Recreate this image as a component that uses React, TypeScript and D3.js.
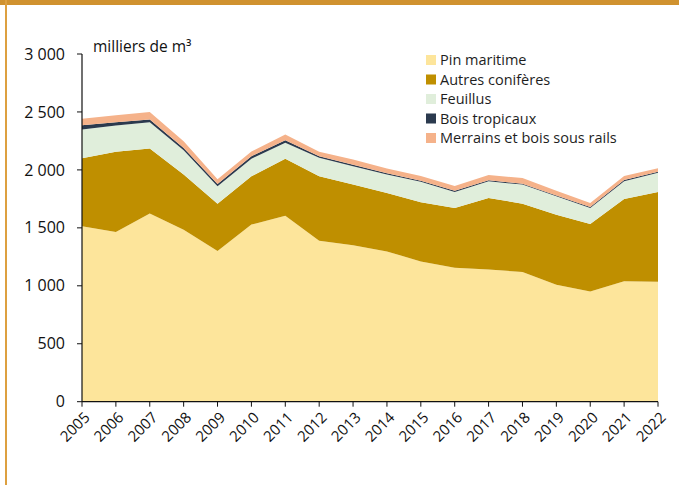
import React from "react";
import * as d3 from "d3";

const years = [2005, 2006, 2007, 2008, 2009, 2010, 2011, 2012, 2013, 2014, 2015, 2016, 2017, 2018, 2019, 2020, 2021, 2022];
const pinMaritime = [1513, 1465, 1623, 1484, 1300, 1528, 1605, 1389, 1350, 1297, 1210, 1155, 1140, 1120, 1010, 950, 1040, 1035];
const autresConiferes = [588, 691, 562, 476, 407, 417, 491, 556, 523, 504, 510, 517, 618, 589, 604, 583, 710, 775];
const feuillus = [248, 227, 227, 210, 152, 151, 138, 159, 159, 159, 177, 138, 144, 164, 158, 139, 152, 165];
const boisTropicaux = [37, 29, 23, 20, 20, 22, 22, 13, 13, 12, 10, 10, 8, 7, 8, 8, 10, 10];
const merrains = [55, 60, 65, 58, 40, 40, 50, 40, 45, 40, 40, 42, 45, 50, 40, 35, 35, 30];

const seriesNames = ["Pin maritime", "Autres conifères", "Feuillus", "Bois tropicaux", "Merrains et bois sous rails"];
const seriesColors = ["#fde59b", "#bf8f00", "#e0eedb", "#2b3a4e", "#f5b28a"];
const yTicks = [0, 500, 1000, 1500, 2000, 2500, 3000];

const W = 679, H = 485;
const left = 82, right = 658, top = 54, bottom = 401.7;
const FONT = "'Open Sans', 'Noto Sans', sans-serif";

export default function App() {
  const x = d3.scaleLinear().domain([2005, 2022]).range([left, right]);
  const y = d3.scaleLinear().domain([0, 3000]).range([bottom, top]);
  const rows = years.map((yr, i) => ({
    year: yr,
    s0: pinMaritime[i],
    s1: autresConiferes[i],
    s2: feuillus[i],
    s3: boisTropicaux[i],
    s4: merrains[i],
  }));
  const stack = d3.stack<any>().keys(["s0", "s1", "s2", "s3", "s4"]);
  const layers = stack(rows);
  const area = d3
    .area<any>()
    .x((d) => x(d.data.year))
    .y0((d) => y(d[0]))
    .y1((d) => y(d[1]));
  const fmt = (v: number) => (v >= 1000 ? d3.format(",")(v).replace(",", " ") : String(v));

  return (
    <svg width={W} height={H} style={{ position: "absolute", left: 0, top: 0, background: "#fff" }} fontFamily={FONT}>
      <rect x={0} y={0} width={W} height={5} fill="#d0922f" />
      <rect x={5} y={0} width={2} height={H} fill="#dda040" />
      {layers.map((l, i) => (
        <path key={i} d={area(l) || ""} fill={seriesColors[i]} stroke="none" />
      ))}
      <line x1={left} x2={left} y1={top} y2={bottom} stroke="#111" strokeWidth={1.2} />
      <line x1={left} x2={right} y1={bottom} y2={bottom} stroke="#111" strokeWidth={1.2} />
      {yTicks.map((t) => (
        <g key={t}>
          <line x1={left - 5} x2={left} y1={y(t)} y2={y(t)} stroke="#111" strokeWidth={1} />
          <text x={65} y={y(t)} dy="0.35em" textAnchor="end" fontSize={16} fill="#111">
            {fmt(t)}
          </text>
        </g>
      ))}
      {years.map((yr) => (
        <g key={yr}>
          <line x1={x(yr)} x2={x(yr)} y1={bottom} y2={bottom + 5} stroke="#111" strokeWidth={1} />
          <text
            transform={`translate(${x(yr) + 5},${bottom + 13}) rotate(-45)`}
            textAnchor="end"
            dy="0.35em"
            fontSize={15}
            fill="#111"
          >
            {yr}
          </text>
        </g>
      ))}
      <text x={93} y={52} fontSize={15.5} fill="#111">
        milliers de m³
      </text>
      {seriesNames.map((n, i) => (
        <g key={n}>
          <rect x={426} y={55 + i * 19.5} width={10} height={10} fill={seriesColors[i]} />
          <text x={440} y={60 + i * 19.5} dy="0.35em" fontSize={14.5} fill="#1e1e1e">
            {n}
          </text>
        </g>
      ))}
    </svg>
  );
}
